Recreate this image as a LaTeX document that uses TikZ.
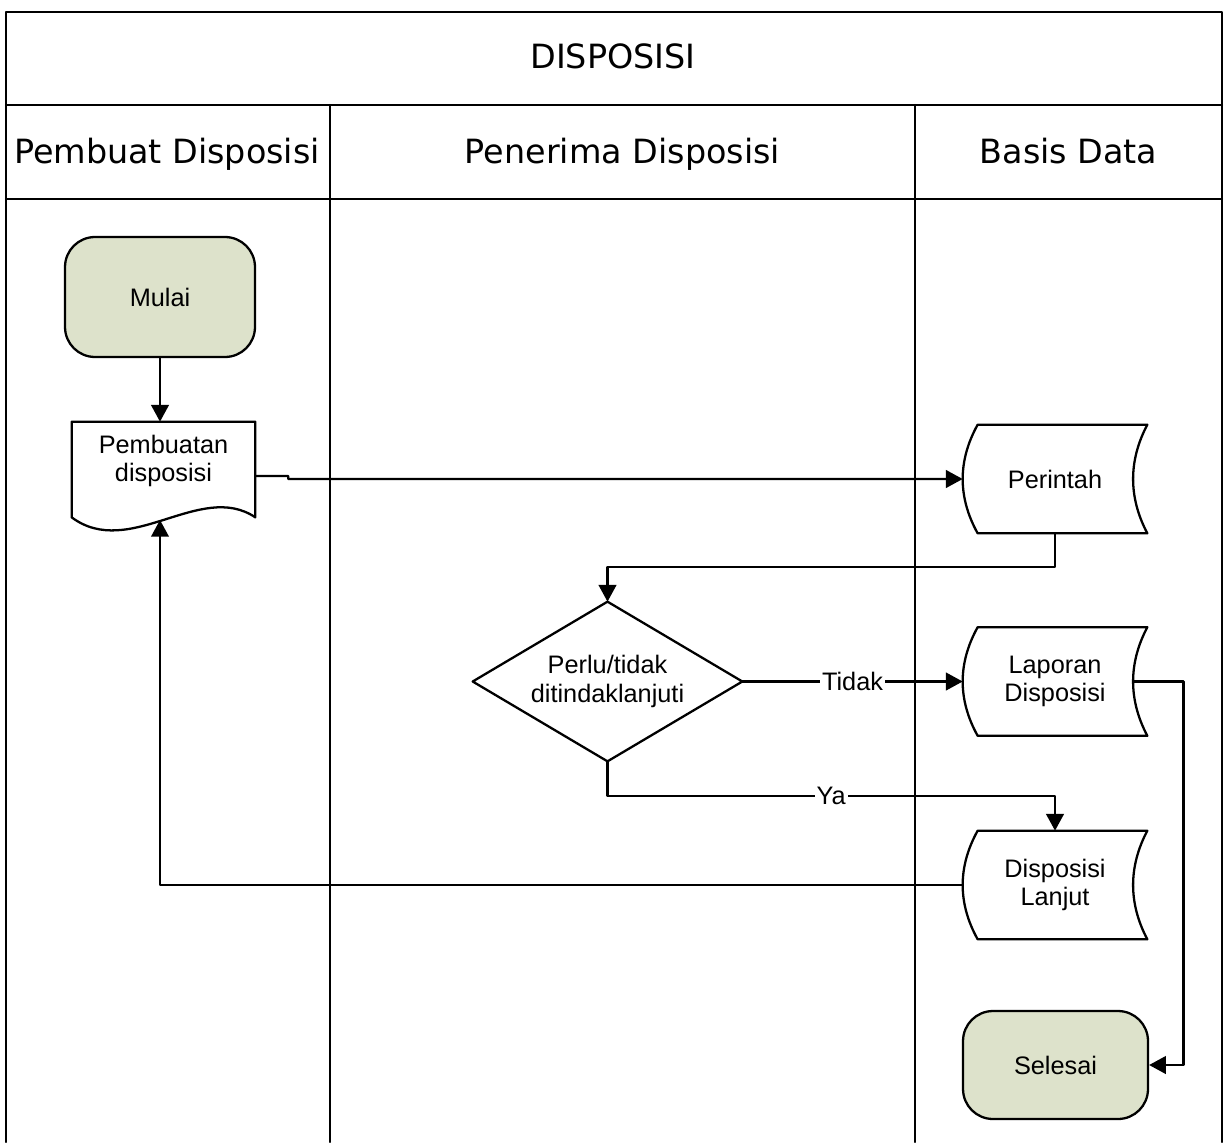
\documentclass[tikz,border=0pt]{standalone}
\usepackage{fontspec}
\setmainfont{Liberation Sans}
\newfontfamily\judulfont{DejaVu Sans}
\usetikzlibrary{arrows.meta,calc}
\definecolor{hijau}{RGB}{221,226,203}

\begin{document}
\begin{tikzpicture}[line cap=round,line join=round,>={Triangle[length=9.5pt,width=10pt]},x=0.02cm,y=-0.02cm,
	garis/.style={line width=1.3pt},
	bentuk/.style={line width=1.3pt},
	hubung/.style={line width=1.25pt},
	judul/.style={font=\judulfont\fontsize{19}{22}\selectfont,anchor=base},
	teks/.style={font=\fontsize{14.4}{16}\selectfont,align=center,inner sep=0pt},
	terminal/.style={teks,draw,line width=1.3pt,fill=hijau,rounded corners=0.6cm},
	kotak/.style={teks,minimum width=3.68cm,minimum height=2.16cm},
	tulisan/.style={teks,fill=white,inner sep=1pt}]
	\useasboundingbox (0,0) rectangle (1226,1142);
	% kerangka tabel
	\draw [garis] (6,1142) -- (6,12) -- (1222,12) -- (1222,1142);
	\draw [garis] (6,105) -- (1222,105);
	\draw [garis] (6,199) -- (1222,199);
	\draw [garis] (330,105) -- (330,1142);
	\draw [garis] (915,105) -- (915,1142);
	\node [judul] (judul) at (613,69) {DISPOSISI};
	\node [judul] (hdpembuat) at (167,164) {Pembuat Disposisi};
	\node [judul] (hdpenerima) at (622.5,164) {Penerima Disposisi};
	\node [judul] (hdbasis) at (1068.5,164) {Basis Data};
	% simbol
	\node [terminal,minimum width=3.8cm,minimum height=2.4cm] (mulai) at (160,297) {Mulai};
	\node [teks,minimum width=3.66cm,minimum height=1.9cm] (buat) at (163.5,469.5) {};
	\node [teks] (buatteks) at ($(buat.center)+(0,-8.5)$) {Pembuatan\\disposisi};
	\draw [bentuk] (buat.south west) -- (buat.north west) -- (buat.north east) -- (buat.south east)
		.. controls +(-55,-37) and +(58,43) .. (buat.south west) -- cycle;
	\coordinate (buatbawah) at (160,520);
	\node [kotak] (perintah) at (1055,479) {Perintah};
	\node [teks,minimum width=5.38cm,minimum height=3.18cm] (putus) at (607.5,681.5) {Perlu/tidak\\ditindaklanjuti};
	\draw [bentuk] (putus.north) -- (putus.east) -- (putus.south) -- (putus.west) -- cycle;
	\node [kotak] (laporan) at (1055,681.5) {Laporan\\Disposisi};
	\node [kotak] (lanjut) at (1055,885) {Disposisi\\Lanjut};
	\foreach \n in {perintah,laporan,lanjut}
		\draw [bentuk] ($(\n.north west)+(15,0)$) -- (\n.north east)
			.. controls +(-19,36) and +(-19,-36) .. (\n.south east) -- ($(\n.south west)+(15,0)$)
			.. controls +(-20,-36) and +(-20,36) .. ($(\n.north west)+(15,0)$) -- cycle;
	\node [terminal,minimum width=3.7cm,minimum height=2.16cm] (selesai) at (1055.5,1065) {Selesai};
	% alur
	\draw [hubung,->] (mulai.south) -- (mulai.south |- buat.north);
	\draw [hubung,->] ([yshift=-3.7pt]buat.east) -- ++(33,0) -- ++(0,3) -- (perintah.west);
	\draw [hubung,->] (perintah.south) -- ++(0,34) -| (putus.north);
	\draw [hubung,->] (putus.east) -- node [tulisan] {Tidak} (laporan.west);
	\draw [hubung,->] (putus.south) -- ++(0,35) -| node [tulisan,pos=0.25] {Ya} (lanjut.north);
	\draw [hubung,->] (lanjut.west) -| (buatbawah);
	\draw [hubung,->] ([xshift=-7.9pt]laporan.east) -- ++(50,0) |- (selesai.east);
\end{tikzpicture}
\end{document}
